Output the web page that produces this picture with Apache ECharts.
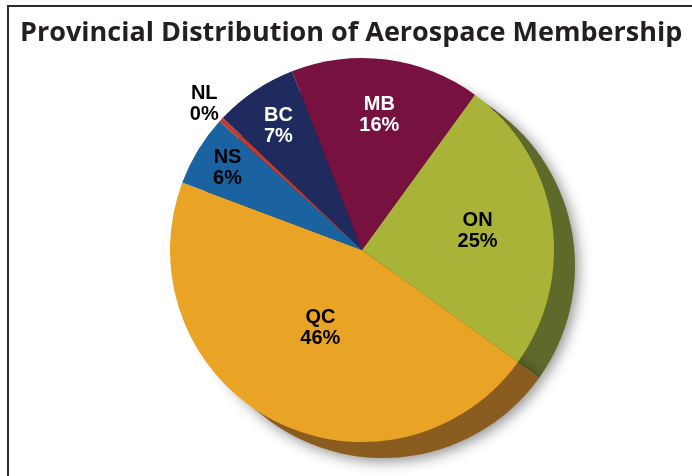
<!DOCTYPE html>
<html>
<head>
<meta charset="utf-8">
<script src="https://cdn.jsdelivr.net/npm/echarts@6/dist/echarts.min.js"></script>
<style>
  html, body { margin: 0; padding: 0; background: #fff; }
  #frame {
    position: absolute;
    left: 7px;
    top: 5px;
    width: 700px;
    height: 480px;
    border-top: 2px solid #2b2b2b;
    border-left: 2px solid #2b2b2b;
  }
  #chart { position: absolute; left: 0; top: 0; width: 692px; height: 476px; }
</style>
</head>
<body>
<div id="frame"></div>
<div id="chart"></div>
<script>
// provinces, clockwise from the top right
const provinces = ['ON', 'QC', 'NS', 'NL', 'BC', 'MB']
// share of membership, percent
const shares = [25, 46, 6, 0.4, 7, 16]

const sliceColors = ['#a9b337', '#e9a425', '#1b62a1', '#c9392b', '#1f2a5e', '#77113f']
const rimColors = ['#5f692a', '#8b5c1f', '#123f69', '#7d241b', '#141b3c', '#4a0b28']
const labelColors = ['#000', '#000', '#000', '#000', '#fff', '#fff']

// how far out each label sits, as a fraction of the radius
const labelReach = { ON: 0.61, QC: 0.46, NS: 0.82, NL: 1.12, BC: 0.78, MB: 0.71 }

const pieCenter = [362, 250]
const pieRadius = 192

const chart = echarts.init(document.getElementById('chart'))

const sliceData = provinces.map((name, i) => ({
  name,
  value: shares[i],
  itemStyle: { color: sliceColors[i] },
  label: { color: labelColors[i] }
}))

const rimData = provinces.map((name, i) => ({
  name,
  value: shares[i],
  itemStyle: { color: rimColors[i] }
}))

chart.setOption({
  animation: false,
  title: {
    text: 'Provincial Distribution of Aerospace Membership',
    left: 15,
    top: 15,
    textStyle: {
      fontFamily: 'Open Sans',
      fontWeight: 'bold',
      fontSize: 27,
      color: '#231f20'
    }
  },
  series: [
    {
      type: 'pie',
      z: 1,
      silent: true,
      center: [pieCenter[0] + 21, pieCenter[1] + 16],
      radius: pieRadius,
      startAngle: 54,
      clockwise: true,
      label: { show: false },
      labelLine: { show: false },
      itemStyle: {
        borderWidth: 0,
        shadowBlur: 14,
        shadowColor: 'rgba(0, 0, 0, 0.45)',
        shadowOffsetX: 3,
        shadowOffsetY: 3
      },
      data: rimData
    },
    {
      type: 'pie',
      z: 2,
      silent: true,
      center: pieCenter,
      radius: pieRadius,
      startAngle: 54,
      clockwise: true,
      itemStyle: { borderWidth: 0 },
      label: {
        show: true,
        position: 'inside',
        fontFamily: 'Liberation Sans',
        fontWeight: 'bold',
        fontSize: 20,
        lineHeight: 21,
        formatter: (p) => p.name + '\n' + Math.round(p.value) + '%'
      },
      labelLine: { show: false },
      labelLayout: (params) => {
        const rect = params.labelRect
        const lx = rect.x + rect.width / 2 - pieCenter[0]
        const ly = rect.y + rect.height / 2 - pieCenter[1]
        const len = Math.sqrt(lx * lx + ly * ly) || 1
        const reach = labelReach[provinces[params.dataIndex]] * pieRadius
        return {
          x: pieCenter[0] + lx / len * reach,
          y: pieCenter[1] + ly / len * reach
        }
      },
      data: sliceData
    }
  ]
})
</script>
</body>
</html>
